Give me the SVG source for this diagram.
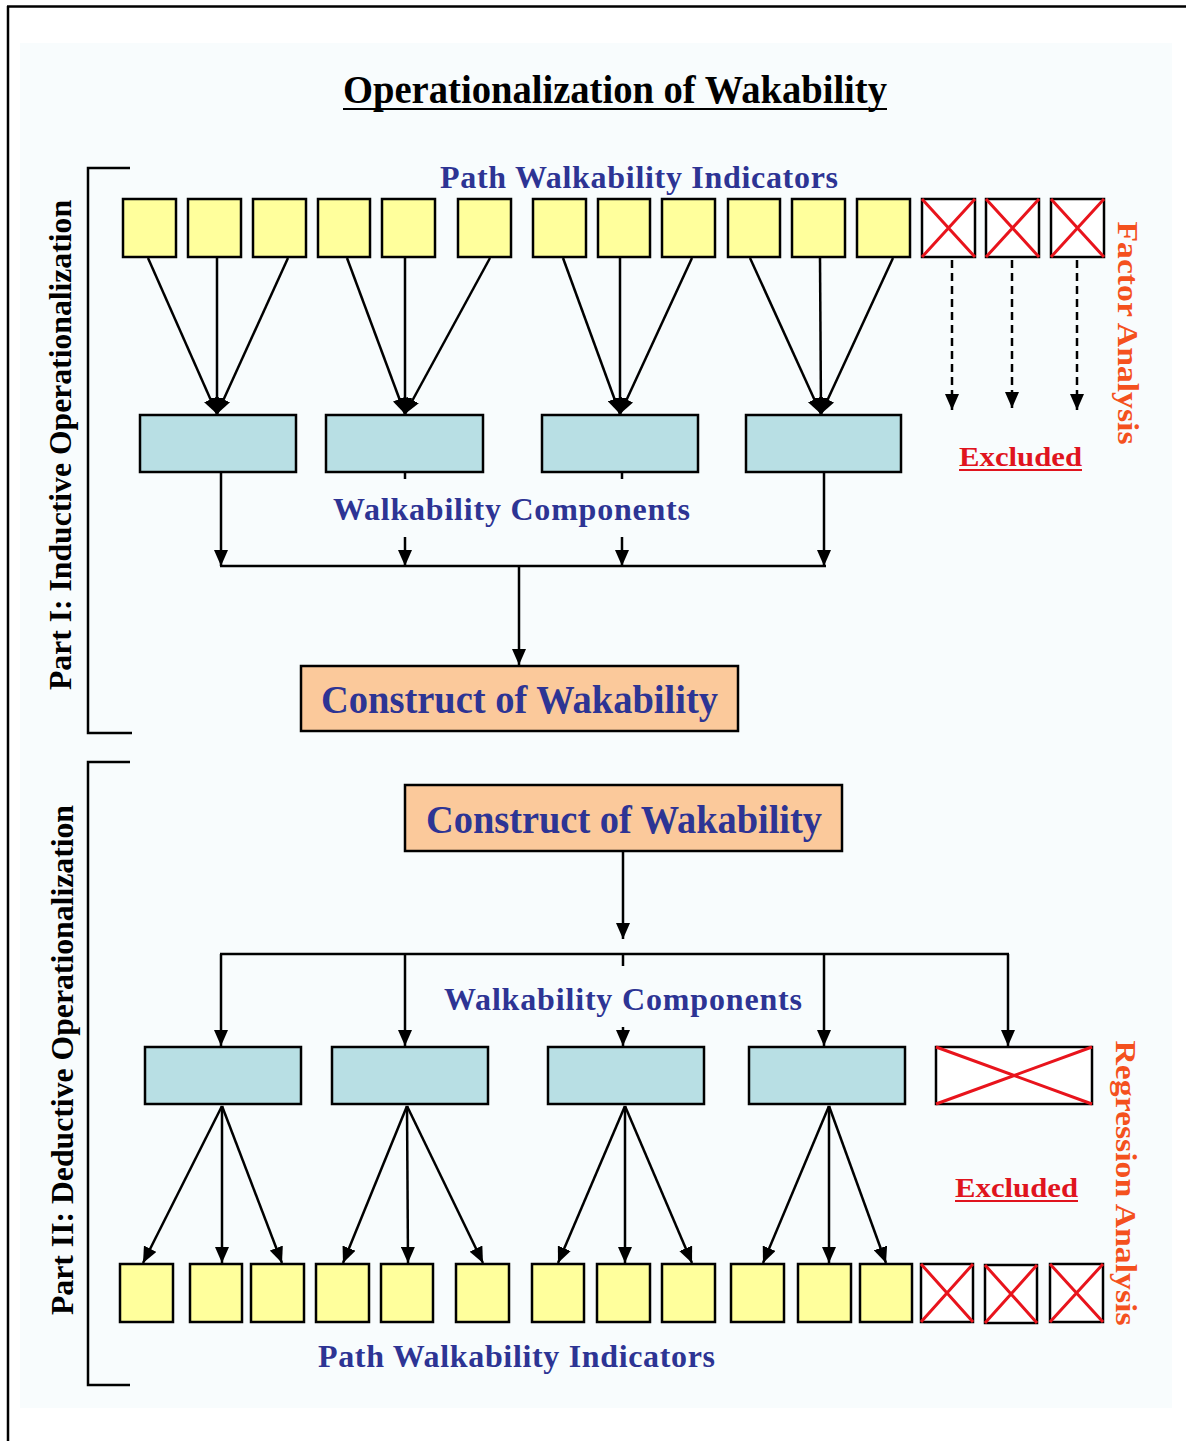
<svg xmlns="http://www.w3.org/2000/svg" width="1186" height="1441" viewBox="0 0 1186 1441">
<defs>
<marker id="ah" viewBox="0 0 16 14" refX="16" refY="7" markerWidth="16" markerHeight="14" markerUnits="userSpaceOnUse" orient="auto">
<path d="M0,0 L16,7 L0,14 z" fill="#000"/>
</marker>
<style>
.y{fill:#ffff9c;stroke:#000;stroke-width:2.5}
.b{fill:#b8dfe4;stroke:#000;stroke-width:2.5}
.o{fill:#fbc99b;stroke:#000;stroke-width:2.5}
.x{fill:#fff;stroke:#000;stroke-width:2.5}
.xl{stroke:#e8141c;stroke-width:3;fill:none}
.c line,.c path{stroke:#000;stroke-width:2.5;fill:none}
.a{marker-end:url(#ah)}
.d{stroke-dasharray:8 5}
.t{font-family:"Liberation Serif","Times New Roman",serif;font-weight:bold}
.blue{fill:#2d3494}
.red{fill:#e0141e}
.org{fill:#f4511e}
.br{stroke:#000;stroke-width:2.5;fill:none}
</style>
</defs>
<rect x="0" y="0" width="1186" height="1441" fill="#fff"/>
<rect x="20" y="43" width="1152" height="1365" fill="#f8fcfd"/>
<path d="M7,6.5 H1186 M8,6 V1441" stroke="#000" stroke-width="2.5" fill="none"/>

<g id="title">
<text class="t" x="343" y="103" font-size="40" textLength="544" lengthAdjust="spacingAndGlyphs">Operationalization of Wakability</text>
<line x1="343" y1="109" x2="887" y2="109" stroke="#000" stroke-width="2"/>
</g>

<g id="part1-bracket"><path class="br" d="M130,168 H88 V733 H132"/></g>
<g id="part2-bracket"><path class="br" d="M130,762 H88 V1385 H130"/></g>
<g id="part1-label"><text class="t" font-size="32" text-anchor="middle" transform="translate(71,445) rotate(-90)" textLength="490" lengthAdjust="spacingAndGlyphs">Part I: Inductive Operationalization</text></g>
<g id="part2-label"><text class="t" font-size="32" text-anchor="middle" transform="translate(73,1060) rotate(-90)" textLength="510" lengthAdjust="spacingAndGlyphs">Part II: Deductive Operationalization</text></g>

<g id="factor-analysis"><text class="t org" font-size="30" text-anchor="middle" transform="translate(1118,333) rotate(90)" textLength="223" lengthAdjust="spacingAndGlyphs">Factor Analysis</text></g>
<g id="regression-analysis"><text class="t org" font-size="30" text-anchor="middle" transform="translate(1116,1183) rotate(90)" textLength="285" lengthAdjust="spacingAndGlyphs">Regression Analysis</text></g>

<g id="labels">
<text class="t blue" x="440" y="188" font-size="32" textLength="398">Path Walkability Indicators</text>
<text class="t blue" x="333" y="520" font-size="32" textLength="357">Walkability Components</text>
<text class="t blue" x="444" y="1010" font-size="32" textLength="358">Walkability Components</text>
<text class="t blue" x="318" y="1367" font-size="32" textLength="397">Path Walkability Indicators</text>
<text class="t red" x="959" y="466" font-size="28" textLength="123" lengthAdjust="spacingAndGlyphs">Excluded</text>
<line x1="959" y1="470" x2="1082" y2="470" stroke="#e0141e" stroke-width="2"/>
<text class="t red" x="955" y="1197" font-size="28" textLength="123" lengthAdjust="spacingAndGlyphs">Excluded</text>
<line x1="955" y1="1201" x2="1078" y2="1201" stroke="#e0141e" stroke-width="2"/>
</g>

<g id="top-indicators">
<rect id="ti1" class="y" x="123" y="199" width="53" height="58"/>
<rect id="ti2" class="y" x="188" y="199" width="53" height="58"/>
<rect id="ti3" class="y" x="253" y="199" width="53" height="58"/>
<rect id="ti4" class="y" x="318" y="199" width="52" height="58"/>
<rect id="ti5" class="y" x="382" y="199" width="53" height="58"/>
<rect id="ti6" class="y" x="458" y="199" width="53" height="58"/>
<rect id="ti7" class="y" x="533" y="199" width="53" height="58"/>
<rect id="ti8" class="y" x="598" y="199" width="52" height="58"/>
<rect id="ti9" class="y" x="662" y="199" width="53" height="58"/>
<rect id="ti10" class="y" x="728" y="199" width="52" height="58"/>
<rect id="ti11" class="y" x="792" y="199" width="53" height="58"/>
<rect id="ti12" class="y" x="857" y="199" width="53" height="58"/>
</g>
<g id="top-excluded">
<g id="tx1"><rect class="x" x="922" y="199" width="53" height="58"/><path class="xl" d="M922,199 L975,257 M975,199 L922,257"/></g>
<g id="tx2"><rect class="x" x="986" y="199" width="53" height="58"/><path class="xl" d="M986,199 L1039,257 M1039,199 L986,257"/></g>
<g id="tx3"><rect class="x" x="1051" y="199" width="53" height="58"/><path class="xl" d="M1051,199 L1104,257 M1104,199 L1051,257"/></g>
</g>

<g id="top-components">
<rect id="tc1" class="b" x="140" y="415" width="156" height="57"/>
<rect id="tc2" class="b" x="326" y="415" width="157" height="57"/>
<rect id="tc3" class="b" x="542" y="415" width="156" height="57"/>
<rect id="tc4" class="b" x="746" y="415" width="155" height="57"/>
</g>

<g id="construct1">
<rect class="o" x="301" y="666" width="437" height="65"/>
<text class="t blue" x="321" y="713" font-size="40" textLength="397" lengthAdjust="spacingAndGlyphs">Construct of Wakability</text>
</g>

<g id="construct2">
<rect class="o" x="405" y="785" width="437" height="66"/>
<text class="t blue" x="426" y="833" font-size="40" textLength="396" lengthAdjust="spacingAndGlyphs">Construct of Wakability</text>
</g>

<g id="bottom-components">
<rect id="bc1" class="b" x="145" y="1047" width="156" height="57"/>
<rect id="bc2" class="b" x="332" y="1047" width="156" height="57"/>
<rect id="bc3" class="b" x="548" y="1047" width="156" height="57"/>
<rect id="bc4" class="b" x="749" y="1047" width="156" height="57"/>
<g id="bc5"><rect class="x" x="936" y="1047" width="156" height="57"/><path class="xl" d="M936,1047 L1092,1104 M1092,1047 L936,1104"/></g>
</g>

<g id="bottom-indicators">
<rect id="bi1" class="y" x="120" y="1264" width="53" height="58"/>
<rect id="bi2" class="y" x="190" y="1264" width="52" height="58"/>
<rect id="bi3" class="y" x="251" y="1264" width="53" height="58"/>
<rect id="bi4" class="y" x="316" y="1264" width="53" height="58"/>
<rect id="bi5" class="y" x="381" y="1264" width="52" height="58"/>
<rect id="bi6" class="y" x="456" y="1264" width="53" height="58"/>
<rect id="bi7" class="y" x="532" y="1264" width="52" height="58"/>
<rect id="bi8" class="y" x="597" y="1264" width="53" height="58"/>
<rect id="bi9" class="y" x="662" y="1264" width="53" height="58"/>
<rect id="bi10" class="y" x="731" y="1264" width="53" height="58"/>
<rect id="bi11" class="y" x="798" y="1264" width="53" height="58"/>
<rect id="bi12" class="y" x="860" y="1264" width="52" height="58"/>
</g>
<g id="bottom-excluded">
<g id="bx1"><rect class="x" x="921" y="1264" width="52" height="58"/><path class="xl" d="M921,1264 L973,1322 M973,1264 L921,1322"/></g>
<g id="bx2"><rect class="x" x="985" y="1265" width="52" height="58"/><path class="xl" d="M985,1265 L1037,1323 M1037,1265 L985,1323"/></g>
<g id="bx3"><rect class="x" x="1050" y="1264" width="53" height="58"/><path class="xl" d="M1050,1264 L1103,1322 M1103,1264 L1050,1322"/></g>
</g>

<g id="connectors" class="c">
<line class="a" x1="148" y1="258" x2="217" y2="414"/>
<line class="a" x1="217" y1="258" x2="217" y2="414"/>
<line class="a" x1="288" y1="258" x2="217" y2="414"/>
<line class="a" x1="347" y1="258" x2="405" y2="414"/>
<line class="a" x1="405" y1="258" x2="405" y2="414"/>
<line class="a" x1="490" y1="258" x2="405" y2="414"/>
<line class="a" x1="563" y1="258" x2="620" y2="414"/>
<line class="a" x1="620" y1="258" x2="620" y2="414"/>
<line class="a" x1="692" y1="258" x2="620" y2="414"/>
<line class="a" x1="750" y1="258" x2="821" y2="414"/>
<line class="a" x1="820" y1="258" x2="821" y2="414"/>
<line class="a" x1="893" y1="258" x2="821" y2="414"/>
<line class="a d" x1="952" y1="260" x2="952" y2="410"/>
<line class="a d" x1="1012" y1="260" x2="1012" y2="408"/>
<line class="a d" x1="1077" y1="260" x2="1077" y2="410"/>

<line class="a" x1="221" y1="473" x2="221" y2="566"/>
<line x1="405" y1="473" x2="405" y2="479"/>
<line class="a" x1="405" y1="537" x2="405" y2="566"/>
<line x1="622" y1="473" x2="622" y2="479"/>
<line class="a" x1="622" y1="537" x2="622" y2="566"/>
<line class="a" x1="824" y1="473" x2="824" y2="566"/>
<line x1="220" y1="566" x2="826" y2="566"/>
<line class="a" x1="519" y1="566" x2="519" y2="665"/>

<line class="a" x1="623" y1="852" x2="623" y2="939"/>
<line x1="220" y1="954" x2="1009" y2="954"/>
<line class="a" x1="221" y1="954" x2="221" y2="1046"/>
<line class="a" x1="405" y1="954" x2="405" y2="1046"/>
<line x1="623" y1="954" x2="623" y2="966"/>
<line class="a" x1="623" y1="1027" x2="623" y2="1046"/>
<line class="a" x1="824" y1="954" x2="824" y2="1046"/>
<line class="a" x1="1008" y1="954" x2="1008" y2="1046"/>

<line class="a" x1="222" y1="1106" x2="143" y2="1263"/>
<line class="a" x1="222" y1="1106" x2="222" y2="1263"/>
<line class="a" x1="222" y1="1106" x2="282" y2="1263"/>
<line class="a" x1="407" y1="1106" x2="343" y2="1263"/>
<line class="a" x1="407" y1="1106" x2="408" y2="1263"/>
<line class="a" x1="407" y1="1106" x2="483" y2="1263"/>
<line class="a" x1="625" y1="1106" x2="558" y2="1263"/>
<line class="a" x1="625" y1="1106" x2="625" y2="1263"/>
<line class="a" x1="625" y1="1106" x2="692" y2="1263"/>
<line class="a" x1="829" y1="1106" x2="763" y2="1263"/>
<line class="a" x1="829" y1="1106" x2="829" y2="1263"/>
<line class="a" x1="829" y1="1106" x2="886" y2="1263"/>
</g>
</svg>
